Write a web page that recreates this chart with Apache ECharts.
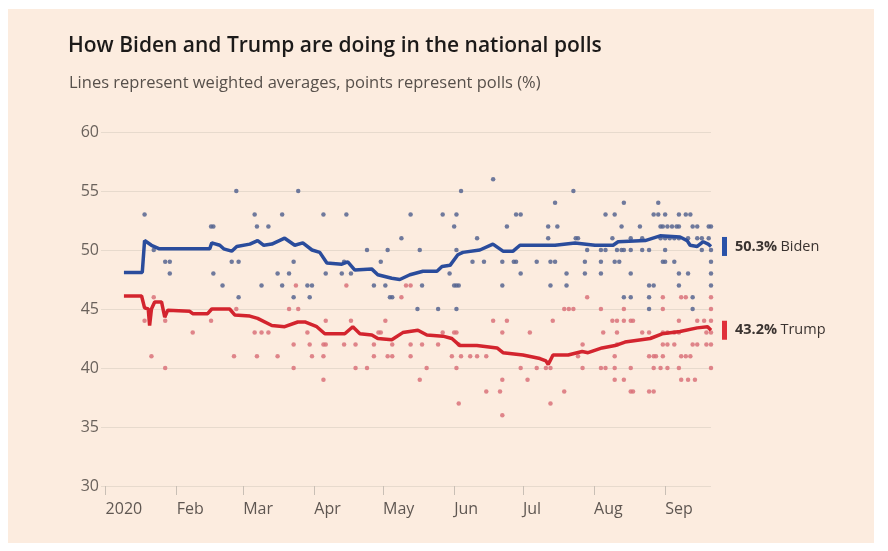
<!DOCTYPE html>
<html>
<head>
<meta charset="utf-8">
<script src="https://cdn.jsdelivr.net/npm/echarts@6/dist/echarts.min.js"></script>
<style>
  html, body { margin:0; padding:0; background:#ffffff; }
  #frame { position:absolute; left:8px; top:9px; width:866px; height:534px; background:#fcecdf; }
  #chart { position:absolute; left:0; top:0; width:888px; height:551px; }
</style>
</head>
<body>
<div id="frame"></div>
<div id="chart"></div>
<script>
// x = days since 1 Jan 2020
const monthTicks = [0, 31, 60, 91, 121, 152, 182, 213, 244];
const monthLabels = ['2020', 'Feb', 'Mar', 'Apr', 'May', 'Jun', 'Jul', 'Aug', 'Sep'];
const yTicks = [30, 35, 40, 45, 50, 55, 60];

const bidenAvg = [[8,48.1],[16,48.1],[17,50.8],[20,50.4],[23.5,50.1],[45.4,50.1],[46.3,50.6],[49.8,50.4],[51.5,50.1],[55,49.9],[57.2,50.3],[62.9,50.5],[66.3,50.8],[69,50.4],[72.5,50.5],[78.1,51.0],[82.5,50.4],[86,50.6],[90,50.0],[93.4,49.8],[96.5,48.9],[103,48.8],[105.6,49.0],[108.7,48.3],[116,48.4],[118.7,47.9],[124.8,47.6],[128.3,47.5],[132.7,47.9],[138.4,48.2],[144.5,48.2],[146.7,48.6],[150.2,48.7],[153.6,49.6],[155.8,49.8],[163.2,50.0],[168.9,50.5],[173.3,49.9],[177.7,49.9],[180.7,50.4],[196,50.4],[204.7,50.6],[213.4,50.4],[221.3,50.4],[223.5,50.7],[235.3,50.8],[241.8,51.2],[250.5,51.1],[253.6,50.8],[254.9,50.4],[258,50.3],[260.6,50.7],[262.8,50.5],[264,50.3]];

const trumpAvg = [[8,46.1],[15.7,46.1],[17,45.1],[18.6,45.0],[19.2,43.6],[20,45.0],[21.4,45.6],[24.4,45.6],[25.8,44.3],[27.1,44.9],[36.7,44.8],[38,44.6],[44.5,44.6],[46.3,45.0],[54.1,45.0],[56.3,44.5],[62.9,44.4],[66.3,44.2],[72.5,43.6],[78.1,43.5],[83.8,43.9],[86.9,43.9],[92.1,43.5],[95.6,42.9],[104.3,42.9],[107.8,43.5],[110.9,42.9],[116.1,42.8],[118.7,42.5],[124.8,42.4],[129.6,43.0],[136.2,43.2],[140.1,42.8],[147.1,42.7],[151,42.5],[154.5,41.9],[161.9,41.9],[170.7,41.7],[173.3,41.3],[182,41.1],[189.4,40.8],[192,40.6],[193,40.3],[193.8,40.6],[195.1,41.1],[201.7,41.1],[207.8,41.4],[210.4,41.3],[216.5,41.7],[222.2,41.9],[226.5,42.2],[237.5,42.5],[242.7,42.9],[250.5,43.1],[258,43.4],[262.5,43.5],[264,43.2]];

const bidenPolls = [[17,53],[46,52],[47,52],[21,50],[26,49],[28,49],[55,49],[58,49],[28,48],[47,48],[51,47],[57,55],[58,46],
[84,55],[65,53],[77,53],[95,53],[105,53],[66,52],[71,52],[114,50],[123,50],[82,49],[104,49],[120,49],[75,48],[80,48],[96,48],[103,48],[107,48],[68,47],[77,47],[88,47],[90,47],[117,47],[122,47],[82,46],[89,46],[125,46],
[155,55],[169,56],[133,53],[147,53],[153,53],[179,53],[181,53],[152,52],[175,52],[129,51],[162,51],[137,50],[153,50],[160,49],[165,49],[173,49],[178,49],[179,49],[188,49],[150,48],[181,48],[138,47],[152,47],[153,47],[154,47],[173,47],[124,46],[136,45],[145,45],[153,45],
[204,55],[196,54],[226,54],[241,54],[218,53],[222,53],[239,53],[241,53],[244,53],[250,53],[253,53],[255,53],
[193,52],[197,52],[225,52],[233,52],[242,52],[243,52],[245,52],[247,52],[249,52],[250,52],[256,52],[258,52],[263,52],[264,52],
[193,51],[205,51],[206,51],[221,51],[229,51],[234,51],[242,51],[244,51],[246,51],[248,51],[250,51],[254,51],[258,51],[260,51],[263,51],
[210,50],[216,50],[218,50],[223,50],[225,50],[226,50],[229,50],[234,50],[237,50],[244,50],[260,50],[264,50],
[194,49],[196,49],[209,49],[216,49],[222,49],[224,49],[243,49],[244,49],[248,49],[264,49],
[201,48],[209,48],[216,48],[229,48],[250,48],[254,48],[264,48],
[194,47],[201,47],[237,47],[239,47],[250,47],[264,47],
[226,46],[229,46],[237,46],[256,46],
[237,45],[256,45]];

const trumpPolls = [[21,46],[17,44],[26,44],[46,44],[38,43],[20,41],[56,41],[66,41],[26,40],[57,45],[65,43],
[83,47],[105,47],[80,45],[84,45],[96,44],[107,44],[122,44],[68,43],[71,43],[88,43],[119,43],[120,43],
[82,42],[89,42],[95,42],[96,42],[104,42],[109,42],[117,42],[125,42],
[75,41],[90,41],[95,41],[117,41],[123,41],[125,41],
[82,40],[109,40],[114,40],[95,39],
[131,47],[133,47],[129,46],[169,44],[175,44],[147,43],[152,43],[153,43],[173,43],[185,43],
[133,42],[138,42],[145,42],[154,42],
[133,41],[151,41],[155,41],[159,41],[162,41],[166,41],
[140,40],[153,40],[181,40],[188,40],[137,39],[173,39],[184,39],[166,38],[172,38],[154,37],[173,36],
[210,46],[243,46],[251,46],[253,46],[264,46],
[200,45],[202,45],[204,45],[216,45],[226,45],[243,45],[264,45],
[195,44],[221,44],[223,44],[226,44],[229,44],[230,44],[250,44],[258,44],[261,44],[264,44],
[217,43],[223,43],[234,43],[237,43],[243,43],[245,43],[248,43],[250,43],[262,43],[264,43],
[208,42],[223,42],[243,42],[245,42],[248,42],[256,42],[258,42],[262,42],[264,42],
[206,41],[222,41],[237,41],[239,41],[240,41],[243,41],[251,41],[253,41],[255,41],
[192,40],[194,40],[208,40],[216,40],[218,40],[222,40],[229,40],[239,40],[242,40],[245,40],[250,40],[264,40],
[222,39],[226,39],[251,39],[254,39],[257,39],
[200,38],[229,38],[230,38],[237,38],[239,38],
[194,37]];

const BLUE = '#2a4c9c';
const RED = '#d3242e';
const FONT = '"Open Sans", "Noto Sans", sans-serif';

function endLabel(color) {
  return {
    show: true,
    distance: 11,
    formatter: p => `{bar|}{v|${p.value[1].toFixed(1)}%} {n|${p.seriesName}}`,
    rich: {
      bar: { width: 5, height: 19, backgroundColor: color },
      v: { fontFamily: FONT, fontSize: 14.5, fontWeight: 'bold', color: '#3a3330', padding: [0, 0, 0, 8] },
      n: { fontFamily: FONT, fontSize: 14.5, color: '#3a3330' }
    }
  };
}

const chart = echarts.init(document.getElementById('chart'), null, { renderer: 'canvas' });
chart.setOption({
  animation: false,
  backgroundColor: 'transparent',
  title: [
    { text: 'How Biden and Trump are doing in the national polls', left: 63, top: 31,
      textStyle: { fontFamily: FONT, fontSize: 21, fontWeight: 600, color: '#1c1a19' } },
    { text: 'Lines represent weighted averages, points represent polls (%)', left: 64, top: 70,
      textStyle: { fontFamily: FONT, fontSize: 16.5, fontWeight: 'normal', color: '#57504b' } }
  ],
  grid: { left: 101, right: 177, top: 132, bottom: 65 },
  xAxis: {
    type: 'value', min: -2, max: 264,
    axisLine: { show: false },
    splitLine: { show: false },
    axisTick: { show: true, customValues: monthTicks, length: 9, lineStyle: { color: '#c9bfb5', width: 1 } },
    axisLabel: {
      customValues: monthTicks, align: 'left', margin: 15,
      fontFamily: FONT, fontSize: 16, color: '#5f5752',
      formatter: v => monthLabels[monthTicks.indexOf(Math.round(v))] || ''
    }
  },
  yAxis: {
    type: 'value', min: 30, max: 60, interval: 5,
    axisLine: { show: false }, axisTick: { show: false },
    splitLine: { lineStyle: { color: '#e7dacd', width: 1 } },
    axisLabel: { margin: 2, fontFamily: FONT, fontSize: 16, color: '#6a625c' }
  },
  series: [
    { name: 'Biden polls', type: 'scatter', data: bidenPolls, symbolSize: 4.5, z: 2, silent: true,
      itemStyle: { color: '#566590', opacity: 0.85 } },
    { name: 'Trump polls', type: 'scatter', data: trumpPolls, symbolSize: 4.5, z: 2, silent: true,
      itemStyle: { color: '#d9727a', opacity: 0.85 } },
    { name: 'Biden', type: 'line', data: bidenAvg, showSymbol: false, z: 4, silent: true,
      lineStyle: { color: BLUE, width: 3.5 }, itemStyle: { color: BLUE }, endLabel: endLabel('#2a52a8') },
    { name: 'Trump', type: 'line', data: trumpAvg, showSymbol: false, z: 4, silent: true,
      lineStyle: { color: RED, width: 3.5 }, itemStyle: { color: RED }, endLabel: endLabel('#e0303a') }
  ]
});
</script>
</body>
</html>
